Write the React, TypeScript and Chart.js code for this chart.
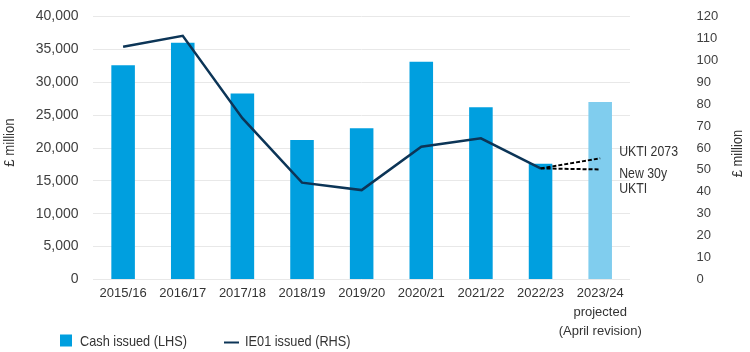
import React, { useEffect, useRef } from "react";
import { Chart, registerables } from "chart.js";

Chart.register(...registerables);

const CATEGORIES: (string | string[])[] = [
  "2015/16",
  "2016/17",
  "2017/18",
  "2018/19",
  "2019/20",
  "2020/21",
  "2021/22",
  "2022/23",
  ["2023/24", "projected", "(April revision)"],
];

const CASH_ISSUED = [32600, 36000, 28300, 21200, 23000, 33100, 26200, 17600, 27000];
const IE01_ISSUED = [106.2, 111.2, 73.6, 44.2, 40.8, 60.6, 64.4, 50.7, null];
const UKTI_2073 = [null, null, null, null, null, null, null, 50.7, 55.3];
const NEW_30Y_UKTI = [null, null, null, null, null, null, null, 50.7, 50.2];

const LEFT_TICK_STEP = 5000;
const LEFT_MAX = 40000;
const RIGHT_TICK_STEP = 10;
const RIGHT_MAX = 120;

const BAR_COLOR = "#009FDF";
const BAR_PROJECTED = "#80CDEE";
const LINE_COLOR = "#0C3557";
const TEXT = "#333333";
const SANS = "'Liberation Sans', Arial, sans-serif";

// draw text horizontally condensed to mimic a narrow typeface
function narrowText(ctx: CanvasRenderingContext2D, text: string, x: number, y: number, squeeze = 0.84) {
  ctx.save();
  ctx.translate(x, y);
  ctx.scale(squeeze, 1);
  ctx.fillText(text, 0, 0);
  ctx.restore();
}

const overlay = {
  id: "overlay",
  afterDraw(chart: any) {
    const ctx = chart.ctx as CanvasRenderingContext2D;
    const x = chart.scales.x;
    const y1 = chart.scales.y1;
    const last = CATEGORIES.length - 1;
    ctx.save();
    ctx.fillStyle = TEXT;
    ctx.textBaseline = "middle";
    ctx.textAlign = "left";
    ctx.font = `15px ${SANS}`;
    const ax = x.getPixelForValue(last) + 19;
    narrowText(ctx, "UKTI 2073", ax, y1.getPixelForValue(UKTI_2073[last]) - 6, 0.82);
    const ny = y1.getPixelForValue(NEW_30Y_UKTI[last]);
    narrowText(ctx, "New 30y", ax, ny + 4, 0.82);
    narrowText(ctx, "UKTI", ax, ny + 19, 0.82);

    // axis titles
    ctx.textAlign = "center";
    ctx.save();
    ctx.translate(10, 142.5);
    ctx.rotate(-Math.PI / 2);
    narrowText(ctx, "£ million", 0, 0, 0.88);
    ctx.restore();
    ctx.save();
    ctx.translate(737.5, 153.5);
    ctx.rotate(-Math.PI / 2);
    narrowText(ctx, "£ million", 0, 0, 0.86);
    ctx.restore();

    // legend
    const ly = 340.5;
    ctx.fillStyle = BAR_COLOR;
    ctx.fillRect(60, ly - 6, 12, 12);
    ctx.fillStyle = TEXT;
    ctx.textAlign = "left";
    narrowText(ctx, chart.data.datasets[0].label, 80, ly + 1, 0.85);
    ctx.strokeStyle = LINE_COLOR;
    ctx.lineWidth = 2;
    ctx.beginPath();
    ctx.moveTo(224, ly + 2);
    ctx.lineTo(239, ly + 2);
    ctx.stroke();
    narrowText(ctx, chart.data.datasets[1].label, 245, ly + 1, 0.85);
    ctx.restore();
  },
};

export default function App() {
  const ref = useRef<HTMLCanvasElement>(null);
  useEffect(() => {
    if (!ref.current) return;
    const chart = new Chart(ref.current, {
      type: "bar",
      data: {
        labels: CATEGORIES,
        datasets: [
          {
            type: "bar",
            label: "Cash issued (LHS)",
            data: CASH_ISSUED,
            backgroundColor: CASH_ISSUED.map((_, i) => (i === CASH_ISSUED.length - 1 ? BAR_PROJECTED : BAR_COLOR)),
            yAxisID: "y",
            categoryPercentage: 1,
            barPercentage: 0.395,
            order: 2,
          },
          {
            type: "line",
            label: "IE01 issued (RHS)",
            data: IE01_ISSUED,
            borderColor: LINE_COLOR,
            borderWidth: 2.5,
            pointRadius: 0,
            tension: 0,
            yAxisID: "y1",
            order: 1,
          },
          {
            type: "line",
            label: "UKTI 2073",
            data: UKTI_2073,
            borderColor: "#000000",
            borderWidth: 2,
            borderDash: [4, 2],
            pointRadius: 0,
            yAxisID: "y1",
            order: 0,
          },
          {
            type: "line",
            label: "New 30y UKTI",
            data: NEW_30Y_UKTI,
            borderColor: "#000000",
            borderWidth: 2,
            borderDash: [4, 2],
            pointRadius: 0,
            yAxisID: "y1",
            order: 0,
          },
        ] as any,
      },
      options: {
        responsive: false,
        animation: false,
        devicePixelRatio: 1,
        layout: { padding: { top: 16.5, left: 0, right: 0, bottom: 0 } },
        plugins: { legend: { display: false }, tooltip: { enabled: false } },
        scales: {
          x: {
            grid: { display: false, drawTicks: false },
            border: { display: false },
            ticks: {
              color: TEXT,
              font: { family: SANS, size: 13, lineHeight: 1.46 },
              padding: 4,
              maxRotation: 0,
              autoSkip: false,
            },
            afterFit: (s: any) => {
              s.height = 72.5;
            },
          },
          y: {
            position: "left",
            min: 0,
            max: LEFT_MAX,
            grid: { color: "#E8E8E8", drawTicks: false, lineWidth: 1 },
            border: { display: false },
            ticks: {
              stepSize: LEFT_TICK_STEP,
              maxTicksLimit: 20,
              color: "#404040",
              font: { family: SANS, size: 14 },
              padding: 14.7,
            },
            afterFit: (s: any) => {
              s.width = 93.3;
              s.paddingTop = 0;
              s.paddingBottom = 0;
            },
          },
          y1: {
            position: "right",
            min: 0,
            max: RIGHT_MAX,
            grid: { display: false, drawTicks: false },
            border: { display: false },
            ticks: {
              stepSize: RIGHT_TICK_STEP,
              maxTicksLimit: 20,
              autoSkip: false,
              color: "#404040",
              font: { family: SANS, size: 13 },
              padding: 66.5,
            },
            afterFit: (s: any) => {
              s.width = 120;
              s.paddingTop = 0;
              s.paddingBottom = 0;
            },
          },
        },
      },
      plugins: [overlay],
    });
    return () => chart.destroy();
  }, []);
  return (
    <div style={{ position: "absolute", left: 0, top: 0, width: 750, height: 352 }}>
      <canvas ref={ref} width={750} height={352} style={{ display: "block" }} />
    </div>
  );
}
